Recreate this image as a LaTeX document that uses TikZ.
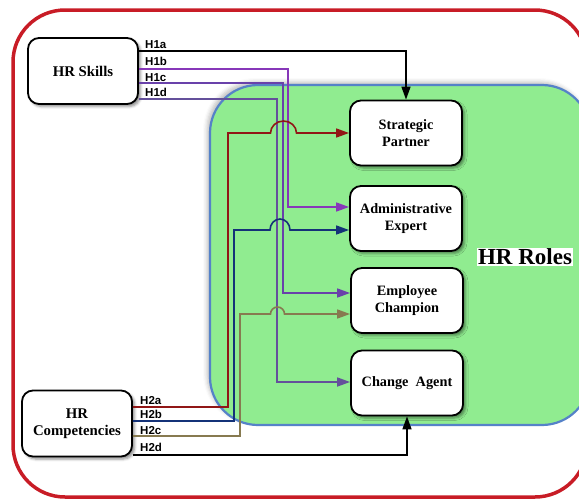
\documentclass[tikz,border=0pt]{standalone}
\usepackage{fontspec}
\setmainfont{Liberation Serif}
\newfontfamily\tagfont{Liberation Sans}
\usetikzlibrary{arrows.meta,shadows.blur}

\definecolor{framered}{RGB}{200,28,38}
\definecolor{areagreen}{RGB}{144,236,144}
\definecolor{areablue}{RGB}{85,130,200}
\definecolor{linkb}{RGB}{135,55,185}
\definecolor{linkc}{RGB}{105,65,170}
\definecolor{linkd}{RGB}{100,80,155}
\definecolor{linkma}{RGB}{145,22,22}
\definecolor{linkmb}{RGB}{20,50,120}
\definecolor{linkmc}{RGB}{135,122,80}

\tikzset{
  hrbox/.style={draw=black, line width=1.8pt, fill=white, rounded corners=11pt,
    minimum width=110pt, minimum height=66pt, align=center,
    font=\bfseries\fontsize{14.8}{17}\selectfont,
    blur shadow={shadow xshift=2.5pt, shadow yshift=-2.5pt, shadow blur radius=2.5pt, shadow opacity=45}},
  rolebox/.style={hrbox, minimum width=112pt, minimum height=65pt,
    font=\bfseries\fontsize{14.3}{17}\selectfont},
  link/.style={line width=1.6pt, -{Triangle[length=13pt,width=9pt]}},
  tag/.style={font=\tagfont\bfseries\fontsize{11.5}{12}\selectfont, anchor=base west, inner sep=0pt},
}

\begin{document}
\begin{tikzpicture}[x=1pt, y=-1pt]
    \useasboundingbox (0,0) rectangle (579,499);
    \clip (0,0) rectangle (579,499);

    % outer frame
    \draw [framered, line width=3.5pt, rounded corners=52pt] (13,10) rectangle (587,497);

    % roles area
    \path [fill=areagreen, draw=areablue, line width=2.2pt, rounded corners=48pt,
      blur shadow={shadow xshift=-3pt, shadow yshift=3pt, shadow blur radius=4pt, shadow opacity=25}]
      (210,85) rectangle (590,425);
    \node [font=\bfseries\fontsize{23}{25}\selectfont, fill=white, inner sep=1pt] (title) at (525,257) {HR Roles};

    % sources
    \node [hrbox] (skills) at (83,71) {HR Skills};
    \node [hrbox] (comp) at (77,423.5) {HR\\Competencies};

    % roles
    \node [rolebox] (sp) at (406,133) {Strategic\\Partner};
    \node [rolebox] (ae) at (406,218.5) {Administrative\\Expert};
    \node [rolebox] (ec) at (407,300.5) {Employee\\Champion};
    \node [rolebox] (ca) at (407,383) {Change~ Agent};

    % H1 links
    \draw [link, black] (skills.east |- 0,50.7) -| (sp.north);
    \draw [link, linkb] (skills.east |- 0,69) -| (288,207) -- (ae.west |- 0,207);
    \draw [link, linkc] (skills.east |- 0,83) -| (283,293) -- (ec.west |- 0,293);
    \draw [link, linkd] (skills.east |- 0,99) -| (277,382) -- (ca.west |- 0,382);

    % H2 links, hopping over the H1 links
    \draw [link, linkma] (comp.east |- 0,407) -| (228,133) -- (270.5,133)
      arc [start angle=180, end angle=360, x radius=13, y radius=12] -- (sp.west);
    \draw [link, linkmb] (comp.east |- 0,421) -| (234,230) -- (270,230)
      arc [start angle=180, end angle=360, x radius=10, y radius=11] -- (ae.west |- 0,230);
    \draw [link, linkmc] (comp.east |- 0,436) -| (240,314) -- (270.5,314)
      arc [start angle=180, end angle=360, x radius=7, y radius=7] -- (ec.west |- 0,314);
    \draw [link, black] (comp.east |- 0,455) -| (ca.south);

    % link tags
    \node [tag] (h1a) at (145,48.5) {H1a};
    \node [tag] (h1b) at (145,65) {H1b};
    \node [tag] (h1c) at (145,81) {H1c};
    \node [tag] (h1d) at (145,96.5) {H1d};
    \node [tag] (h2a) at (140,404.5) {H2a};
    \node [tag] (h2b) at (140,418) {H2b};
    \node [tag] (h2c) at (140,434) {H2c};
    \node [tag] (h2d) at (140,451) {H2d};
\end{tikzpicture}
\end{document}
